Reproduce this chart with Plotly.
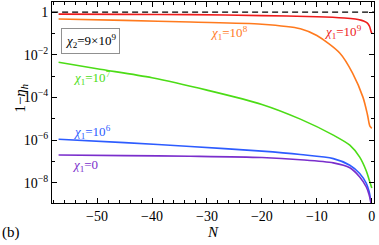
import plotly.graph_objects as go

# N values and log10(1-eta_h)
N_red = [-57, -45, -33, -20, -10, -5, -3, -2, -1.5, -0.8, -0.4, -0.15, 0]
L_red = [-0.1, -0.11, -0.12, -0.17, -0.22, -0.28, -0.33, -0.38, -0.42, -0.52, -0.68, -0.9, -1.0]

N_orange = [-57, -45, -33, -20, -13, -10, -5.8, -3.5, -1.6, -0.8, -0.35, 0]
L_orange = [-0.33, -0.39, -0.47, -0.57, -0.78, -1.1, -1.93, -2.86, -4.0, -4.8, -5.35, -5.45]

N_green = [-57, -50, -40, -30, -20, -13, -7, -4, -2.2, -1, -0.5, 0]
L_green = [-2.35, -2.66, -3.08, -3.66, -4.33, -5.02, -5.77, -6.24, -6.8, -7.45, -7.85, -8.25]

N_blue = [-57, -45, -33, -20, -13, -7, -4, -2.2, -1, -0.5, -0.2, 0]
L_blue = [-5.96, -6.12, -6.3, -6.52, -6.68, -6.87, -7.18, -7.57, -8.03, -8.4, -8.8, -9.2]

N_purple = [-57, -45, -33, -20, -13, -7, -4, -2.2, -1, -0.5, -0.2, 0]
L_purple = [-6.7, -6.73, -6.76, -6.82, -6.92, -7.07, -7.3, -7.73, -8.2, -8.55, -8.9, -9.3]

series = [
    (N_red, L_red, "#ee1c1c"),
    (N_orange, L_orange, "#ff7a1e"),
    (N_green, L_green, "#4cdc16"),
    (N_blue, L_blue, "#2d5cff"),
    (N_purple, L_purple, "#7a2ecc"),
]

labels = [
    ("<i>χ</i><sub>1</sub>=10<sup>9</sup>", -5.3, -0.95, "#ee1c1c"),
    ("<i>χ</i><sub>1</sub>=10<sup>8</sup>", -26.0, -1.0, "#ff7a1e"),
    ("<i>χ</i><sub>1</sub>=10<sup>7</sup>", -51.0, -3.1, "#4cdc16"),
    ("<i>χ</i><sub>1</sub>=10<sup>6</sup>", -51.0, -5.6, "#2d5cff"),
    ("<i>χ</i><sub>1</sub>=0", -52.2, -7.2, "#7a2ecc"),
]

FONT = "Liberation Serif, Times New Roman, serif"

fig = go.Figure()
fig.add_trace(go.Scatter(x=[-60, 2], y=[1, 1], mode="lines",
                         line=dict(color="black", width=1.3, dash="6px,4px"),
                         showlegend=False, hoverinfo="skip"))
for n, l, c in series:
    fig.add_trace(go.Scatter(x=n, y=[10 ** v for v in l], mode="lines",
                             line=dict(color=c, width=1.6, shape="spline", smoothing=0.8),
                             showlegend=False))

for t, x, ly, c in labels:
    fig.add_annotation(x=x, y=ly, xref="x", yref="y", text=t, showarrow=False,
                       font=dict(family=FONT, size=13, color=c))

fig.add_annotation(x=-51.2, y=-1.38, xref="x", yref="y",
                   text="<i>χ</i><sub>2</sub>=9×10<sup>9</sup>", showarrow=False,
                   font=dict(family=FONT, size=13, color="black"),
                   bordercolor="#909090", borderwidth=1, borderpad=3, bgcolor="white")

fig.add_annotation(x=-0.13, y=0.52, xref="paper", yref="paper", text="1−<i>η<sub>h</sub></i>",
                   textangle=-90, showarrow=False, font=dict(family=FONT, size=15, color="black"))
fig.add_annotation(x=0.5, y=-0.145, xref="paper", yref="paper", text="<i>N</i>",
                   showarrow=False, yanchor="middle", font=dict(family=FONT, size=15, color="black"))
fig.add_annotation(x=-0.16, y=-0.145, xref="paper", yref="paper", text="(b)",
                   showarrow=False, xanchor="left", yanchor="middle",
                   font=dict(family=FONT, size=15, color="black"))

fig.update_xaxes(range=[-58.2, 0.4], showgrid=False, zeroline=False, automargin=False,
                 showline=True, linecolor="black", linewidth=1, mirror="allticks",
                 ticks="inside", ticklen=5, tickcolor="black", dtick=10, tick0=0,
                 minor=dict(ticks="inside", ticklen=3, dtick=2, tickcolor="black"),
                 tickfont=dict(family=FONT, size=14, color="black"))
fig.update_yaxes(type="log", range=[-8.95, 0.47], showgrid=False, zeroline=False, automargin=False,
                 showline=True, linecolor="black", linewidth=1, mirror="allticks",
                 ticks="inside", ticklen=5, tickcolor="black",
                 tickvals=[1, 1e-2, 1e-4, 1e-6, 1e-8],
                 ticktext=["1", "10<sup>−2</sup>", "10<sup>−4</sup>", "10<sup>−6</sup>", "10<sup>−8</sup>"],
                 minor=dict(ticks="inside", ticklen=3, dtick=1, tickcolor="black"),
                 tickfont=dict(family=FONT, size=14, color="black"))

fig.update_layout(width=379, height=245, margin=dict(l=52, r=5, t=2, b=42),
                  plot_bgcolor="white", paper_bgcolor="white")
fig.write_html("out.html", config={"displayModeBar": False},
               post_script="document.body.style.margin='0';document.body.style.padding='0';")
